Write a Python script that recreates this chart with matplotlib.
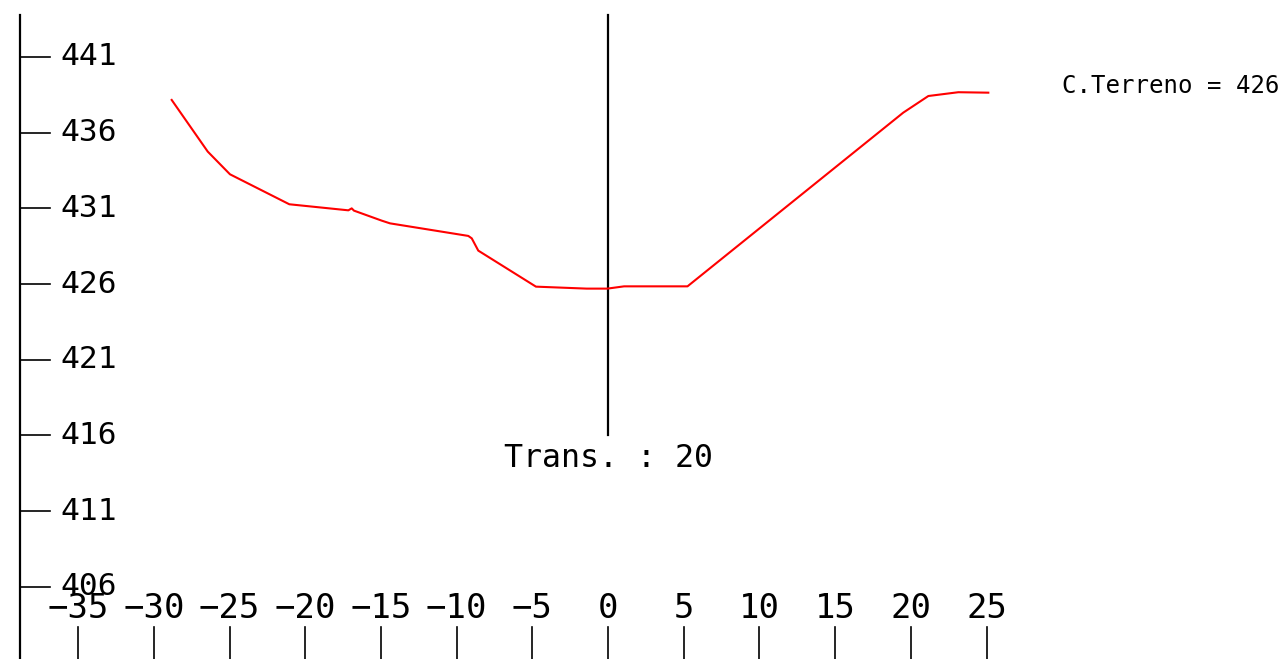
"""
Cross-section profile (CAD style): terrain line, axis ticks and labels.
"""

import matplotlib
matplotlib.use('Agg')
import matplotlib.pyplot as plt

# ── Data ─────────────────────────────────────────────────────────────────────
profile_x = [-28.82, -26.44, -24.97, -21.05, -17.15, -16.93, -16.78, -14.95,
             -14.40, -9.23, -9.00, -8.57, -4.76, -1.41, -0.04, 1.06, 5.25,
             19.50, 21.16, 23.14, 25.12]
profile_y = [438.16, 434.75, 433.25, 431.27, 430.87, 431.00, 430.85, 430.19,
             430.01, 429.18, 429.02, 428.21, 425.83, 425.70, 425.70, 425.85,
             425.85, 437.32, 438.42, 438.67, 438.64]

y_ticks = [441, 436, 431, 426, 421, 416, 411, 406]
x_ticks = [-35, -30, -25, -20, -15, -10, -5, 0, 5, 10, 15, 20, 25]

axis_x = -38.84          # vertical reference axis
centre_top, centre_bottom = 443.8, 416.0
label_trans = 'Trans. : 20'
label_terreno = 'C.Terreno = 426'

FONT = 'DejaVu Sans Mono'

# ── Figure ───────────────────────────────────────────────────────────────────
fig = plt.figure(figsize=(12.84, 6.59), dpi=100)
ax = fig.add_axes([0, 0, 1, 1])
ax.set_xlim(-40.16, 44.65)
ax.set_ylim(401.24, 444.76)
ax.axis('off')

# vertical axis
ax.plot([axis_x, axis_x], [443.8, 401.24], color='black', lw=1.6)

# y ticks + labels
for yv in y_ticks:
    ax.plot([axis_x, axis_x + 1.98], [yv, yv], color='black', lw=1.2)
    ax.text(axis_x + 2.66, yv, str(yv), fontsize=22.5, family=FONT,
            ha='left', va='center', color='black')

# x ticks + labels
for xv in x_ticks:
    ax.plot([xv, xv], [403.35, 401.24], color='black', lw=1.2)
    ax.text(xv, 404.55, str(xv).replace('-', '\u2212'), fontsize=24.5,
            family=FONT, ha='center', va='center', color='black')

# centre line
ax.plot([0, 0], [centre_bottom, centre_top], color='black', lw=1.6)
ax.text(0, 414.45, label_trans, fontsize=22.8, family=FONT,
        ha='center', va='center', color='black')

# terrain profile
ax.plot(profile_x, profile_y, color='red', lw=1.5)

ax.text(29.99, 439.08, label_terreno, fontsize=17.3, family=FONT,
        ha='left', va='center', color='black')

fig.savefig('out.png', dpi=100)
plt.close(fig)
